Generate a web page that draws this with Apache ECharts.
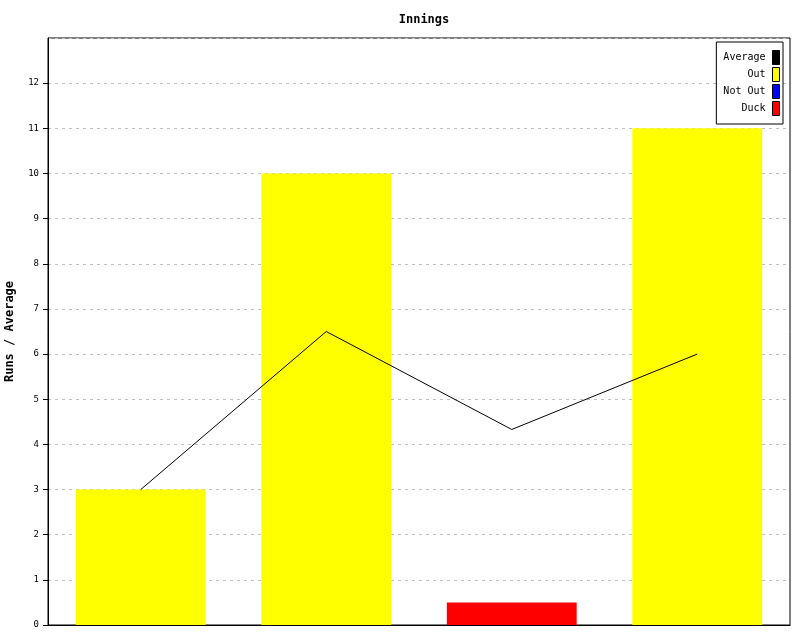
<!DOCTYPE html>
<html>
<head>
<meta charset="utf-8">
<script src="https://cdn.jsdelivr.net/npm/echarts@6/dist/echarts.min.js"></script>
<style>html,body{margin:0;padding:0;background:#fff}#c{width:800px;height:640px}</style>
</head>
<body>
<div id="c"></div>
<script>
const categories = ['1', '2', '3', '4'];
const outRuns = [3, 10, null, 11];
const notOutRuns = [null, null, null, null];
const duckRuns = [null, null, 0.5, null];
const average = [3, 6.5, 4.33, 6];
const yMaxLabel = 12;
const yMaxAxis = 13;

const FONT = '"DejaVu Sans Mono", "Liberation Mono", monospace';
const gridTop = 38, gridBottom = 15, chartH = 640;
const plotH = chartH - gridTop - gridBottom;
const tickGridTop = gridTop + plotH * (yMaxAxis - yMaxLabel) / yMaxAxis;

const chart = echarts.init(document.getElementById('c'), null, {renderer: 'canvas'});
chart.setOption({
  animation: false,
  backgroundColor: '#fff',
  textStyle: {fontFamily: FONT},
  title: {
    text: 'Innings', left: 419, top: 9, textAlign: 'center',
    textStyle: {fontFamily: FONT, fontSize: 12, fontWeight: 'bold', color: '#000'}
  },
  grid: [
    {left: 48, right: 10, top: gridTop, bottom: gridBottom, show: true, borderColor: '#000', borderWidth: 1,
      backgroundColor: 'transparent', outerBoundsMode: 'none', containLabel: false},
    {left: 48, right: 10, top: tickGridTop, bottom: gridBottom, show: false, outerBoundsMode: 'none', containLabel: false}
  ],
  legend: {
    orient: 'vertical', right: 17, top: 42, align: 'right',
    padding: [8, 3, 8, 7], itemGap: 2, itemWidth: 7, itemHeight: 14,
    backgroundColor: '#fff', borderColor: '#000', borderWidth: 1, borderRadius: 0,
    textStyle: {fontFamily: FONT, fontSize: 10, lineHeight: 14, color: '#000', padding: [0, 2, 0, 0]},
    itemStyle: {borderColor: '#000', borderWidth: 1},
    data: [
      {name: 'Average', icon: 'rect', itemStyle: {color: '#000'}},
      {name: 'Out', icon: 'rect'},
      {name: 'Not Out', icon: 'rect'},
      {name: 'Duck', icon: 'rect'}
    ]
  },
  xAxis: [{
    type: 'category', data: categories, gridIndex: 0,
    axisLine: {show: true, lineStyle: {color: '#000', width: 1}},
    axisTick: {show: false}, axisLabel: {show: false}, splitLine: {show: false}
  }, {
    type: 'category', data: categories, gridIndex: 1,
    axisLine: {show: false}, axisTick: {show: false}, axisLabel: {show: false}, splitLine: {show: false}
  }],
  yAxis: [{
    type: 'value', min: 0, max: yMaxAxis, interval: 1, gridIndex: 0,
    name: 'Runs / Average', nameLocation: 'middle', nameGap: 32, nameRotate: 90,
    nameTextStyle: {fontFamily: FONT, fontSize: 12, fontWeight: 'bold', color: '#000'},
    axisLine: {show: true, lineStyle: {color: '#000', width: 1}},
    axisTick: {show: false},
    axisLabel: {fontFamily: FONT, fontSize: 9, color: '#000', margin: 9,
      formatter: function (v) { return v > yMaxLabel ? '' : String(v); }},
    splitLine: {show: true, lineStyle: {color: '#c0c0c0', type: [3, 4], width: 1}}
  }, {
    type: 'value', min: 0, max: yMaxLabel, interval: 1, gridIndex: 1, position: 'left', offset: 0,
    axisLine: {show: true, onZero: false, lineStyle: {color: '#000', width: 1}},
    axisTick: {show: true, length: 5, inside: false, lineStyle: {color: '#000', width: 1}},
    axisLabel: {show: false}, splitLine: {show: false}
  }],
  series: [
    {name: 'Out', type: 'bar', stack: 'r', data: outRuns, barWidth: '70%', itemStyle: {color: '#ffff00'}, z: 2},
    {name: 'Not Out', type: 'bar', stack: 'r', data: notOutRuns, barWidth: '70%', itemStyle: {color: '#0000ff'}, z: 2},
    {name: 'Duck', type: 'bar', stack: 'r', data: duckRuns, barWidth: '70%', itemStyle: {color: '#ff0000'}, z: 2},
    {name: 'Average', type: 'line', data: average, showSymbol: false, symbol: 'none', lineStyle: {color: '#000', width: 1}, itemStyle: {color: '#000'}, z: 5}
  ]
});
</script>
</body>
</html>
